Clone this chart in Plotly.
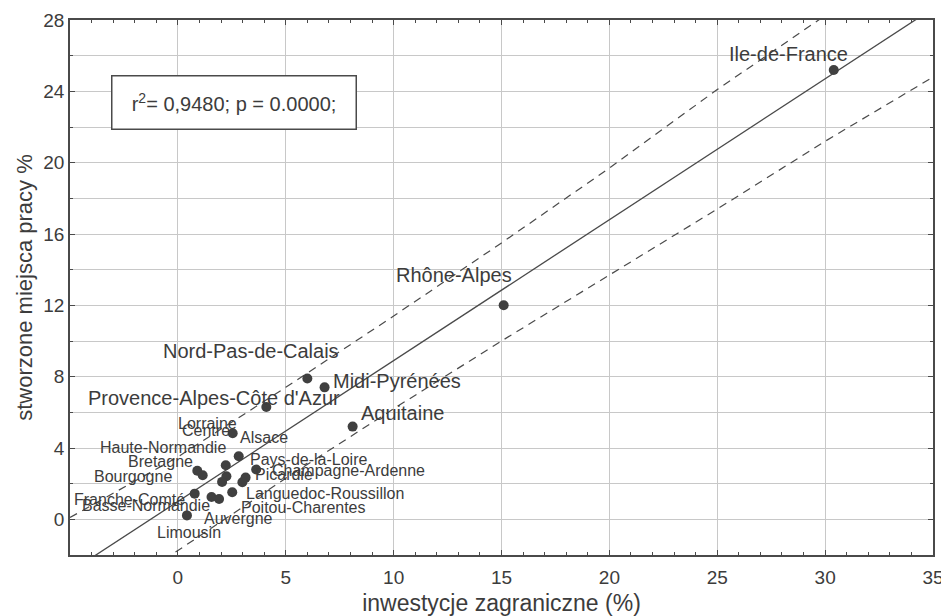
import plotly.graph_objects as go

# ---- data ----
regions = ["Ile-de-France", "Rhône-Alpes", "Nord-Pas-de-Calais", "Midi-Pyrénées",
           "Provence-Alpes-Côte d'Azur", "Aquitaine", "Centre", "Pays-de-la-Loire",
           "Bretagne", "Bourgogne", "Haute-Normandie", "Alsace", "Lorraine",
           "Champagne-Ardenne", "Picardie", "Poitou-Charentes", "Franche-Comté",
           "Basse-Normandie", "Auvergne", "Languedoc-Roussillon", "Limousin"]
investment = [30.4, 15.1, 6.0, 6.8, 4.1, 8.1, 2.54, 2.82, 0.90, 1.15, 2.22, 2.25, 2.05,
              3.63, 3.14, 2.99, 0.78, 1.56, 1.91, 2.52, 0.42]
jobs = [25.2, 12.0, 7.9, 7.4, 6.3, 5.2, 4.83, 3.54, 2.72, 2.47, 3.03, 2.42, 2.10,
        2.79, 2.34, 2.08, 1.44, 1.25, 1.14, 1.52, 0.22]

fit_x = [-5, 35]
fit_y = [-2.95, 28.65]
band_x = [-5, 0, 5, 10, 15, 20, 25, 30, 35]
band_upper = [0.1, 3.5, 7.4, 11.4, 15.5, 19.7, 24.1, 28.2, 32.4]
band_lower = [-5.7, -1.75, 2.3, 6.2, 10.0, 13.7, 17.4, 21.2, 24.8]

x_ticks = [0, 5, 10, 15, 20, 25, 30, 35]
y_ticks = [0, 4, 8, 12, 16, 20, 24, 28]
stats_text = "r<sup>2</sup>= 0,9480; p = 0.0000;"

# ---- label styling (pixel offsets from each point, font size) ----
big = {"Ile-de-France", "Rhône-Alpes", "Nord-Pas-de-Calais", "Midi-Pyrénées",
       "Provence-Alpes-Côte d'Azur", "Aquitaine"}
label_offsets = {
    "Ile-de-France": (-45, 16), "Rhône-Alpes": (-50, 30), "Nord-Pas-de-Calais": (-56, 27),
    "Midi-Pyrénées": (72, 6), "Provence-Alpes-Côte d'Azur": (-52, 9), "Aquitaine": (50, 14),
    "Centre": (-27, 3), "Pays-de-la-Loire": (70, -3), "Bretagne": (-37, 9),
    "Bourgogne": (-70, -1), "Haute-Normandie": (-63, 18), "Alsace": (38, 39),
    "Lorraine": (-15, 58), "Champagne-Ardenne": (92, -1), "Picardie": (38, 3),
    "Poitou-Charentes": (61, -25), "Franche-Comté": (-65, -6), "Basse-Normandie": (-66, -8),
    "Auvergne": (19, -19), "Languedoc-Roussillon": (93, -1), "Limousin": (2, -17),
}

FONT = "Liberation Sans, Arial, sans-serif"
INK = "#3c3c3c"
LINE = "#4a4a4a"
GRID = "#c8c8c8"

fig = go.Figure()
fig.add_trace(go.Scatter(x=band_x, y=band_upper, mode="lines",
                         line=dict(color=LINE, width=1.2, dash="8px,6px"), hoverinfo="skip"))
fig.add_trace(go.Scatter(x=band_x, y=band_lower, mode="lines",
                         line=dict(color=LINE, width=1.2, dash="8px,6px"), hoverinfo="skip"))
fig.add_trace(go.Scatter(x=fit_x, y=fit_y, mode="lines",
                         line=dict(color=LINE, width=1.3), hoverinfo="skip"))
fig.add_trace(go.Scatter(x=investment, y=jobs, mode="markers", text=regions,
                         marker=dict(color="#404040", size=10)))

for name, xv, yv in zip(regions, investment, jobs):
    dx, dy = label_offsets[name]
    fig.add_annotation(x=xv, y=yv, text=name, showarrow=False, xshift=dx, yshift=dy,
                       xanchor="center", yanchor="middle",
                       font=dict(family=FONT, size=20 if name in big else 16, color=INK))

fig.add_annotation(xref="paper", yref="paper", x=0.1906, y=0.8467, text=stats_text,
                   xanchor="center", yanchor="middle",
                   showarrow=False, width=243, height=52, bgcolor="white",
                   bordercolor=LINE, borderwidth=1.5, borderpad=0,
                   font=dict(family=FONT, size=20, color=INK))

axis_common = dict(showline=True, linecolor=LINE, linewidth=1.5, mirror="allticks",
                   ticks="inside", ticklen=5, tickcolor=LINE, showgrid=True,
                   gridcolor=GRID, gridwidth=1, zeroline=False, automargin=False,
                   tickfont=dict(family=FONT, size=19, color=INK))

# the page body adds an 8px offset, so the figure is sized to fit the window
fig.update_layout(
    width=941, height=608,
    margin=dict(l=62, r=16, t=12, b=61),
    paper_bgcolor="white", plot_bgcolor="white",
    showlegend=False,
    xaxis=dict(range=[-5, 35], tickvals=x_ticks, ticklabelstandoff=4, **axis_common,
               minor=dict(dtick=1, tick0=0, ticks="inside", ticklen=3, tickcolor=LINE, showgrid=False),
               title=dict(text="inwestycje zagraniczne (%)", standoff=8,
                          font=dict(family=FONT, size=23, color=INK))),
    yaxis=dict(range=[-2, 28], tickvals=y_ticks, **axis_common,
               minor=dict(dtick=2, tick0=0, ticks="inside", ticklen=3, tickcolor=LINE,
                          showgrid=True, gridcolor=GRID, gridwidth=1),
               title=dict(text="stworzone miejsca pracy %", standoff=5,
                          font=dict(family=FONT, size=22, color=INK))),
)

fig.write_html("out.html")
